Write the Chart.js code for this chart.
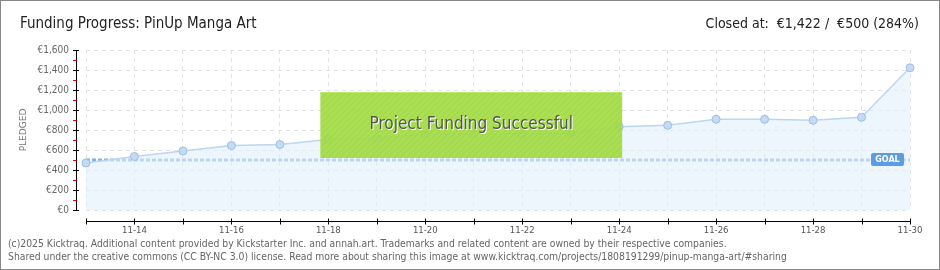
<!DOCTYPE html>
<html>
<head>
<meta charset="utf-8">
<script src="https://cdn.jsdelivr.net/npm/chart.js@4.4.1/dist/chart.umd.min.js"></script>
<style>
  html, body { margin: 0; padding: 0; background: #fff; }
  #wrap { position: relative; width: 940px; height: 270px; box-sizing: border-box; border: 1px solid #888; overflow: hidden; }
  #wrap canvas { position: absolute; left: -1px; top: -1px; }
  .title { position: absolute; top: 13px; font-family: "DejaVu Sans Condensed", sans-serif; font-size: 15px; color: #222; white-space: nowrap; }
  #t1 { left: 19px; }
  #t2 { right: 20px; font-size: 14px; top: 14px; }
  .foot { position: absolute; left: 7px; font-family: "DejaVu Sans Condensed", sans-serif; font-size: 10.3px; color: #666; white-space: nowrap; }
  #f1 { top: 236px; }
  #f2 { top: 249px; }
</style>
</head>
<body>
<div id="wrap">
  <canvas id="chart" width="940" height="270"></canvas>
  <div class="title" id="t1">Funding Progress: PinUp Manga Art</div>
  <div class="title" id="t2">Closed at:&nbsp; €1,422 /&nbsp; €500 (284%)</div>
  <div class="foot" id="f1">(c)2025 Kicktraq. Additional content provided by Kickstarter Inc. and annah.art. Trademarks and related content are owned by their respective companies.</div>
  <div class="foot" id="f2">Shared under the creative commons (CC BY-NC 3.0) license. Read more about sharing this image at www.kicktraq.com/projects/1808191299/pinup-manga-art/#sharing</div>
</div>
<script>
var days = ['11-13', '11-14', '11-15', '11-16', '11-17', '11-18', '11-19', '11-20', '11-21',
            '11-22', '11-23', '11-24', '11-25', '11-26', '11-27', '11-28', '11-29', '11-30'];
var pledged = [470, 535, 590, 645, 655, 705, 715, 757, 760, 757, 767, 833, 847, 907, 907, 897, 927, 1422];
var goal = 500;
var yTicks = [0, 200, 400, 600, 800, 1000, 1200, 1400, 1600];
// success banner spans these days / values
var bannerFrom = '11-18', bannerTo = '11-24';
var bannerTop = 1180, bannerBottom = 520;

var goalLine = days.map(function () { return goal; });

function euro(v) {
    return '€' + v.toLocaleString('en-US');
}

var stripes = (function () {
    var c = document.createElement('canvas');
    c.width = 6; c.height = 6;
    var g = c.getContext('2d');
    g.fillStyle = 'rgba(164,220,70,0.93)';
    g.fillRect(0, 0, 6, 6);
    g.strokeStyle = 'rgba(140,196,50,0.35)';
    g.lineWidth = 1;
    g.beginPath();
    g.moveTo(0, 6); g.lineTo(6, 0);
    g.moveTo(-1, 1); g.lineTo(1, -1);
    g.moveTo(5, 7); g.lineTo(7, 5);
    g.stroke();
    return g.createPattern(c, 'repeat');
})();

var extras = {
    id: 'extras',
    afterDatasetsDraw: function (chart) {
        var ctx = chart.ctx, x = chart.scales.x, y = chart.scales.y, a = chart.chartArea;
        ctx.save();

        // goal tag
        var gy = y.getPixelForValue(goal);
        var gx = x.getPixelForValue(days.length - 1);
        ctx.fillStyle = '#5b9de0';
        ctx.beginPath();
        ctx.roundRect(gx - 39, gy - 7, 33, 13, 2);
        ctx.fill();
        ctx.fillStyle = '#fff';
        ctx.font = 'bold 8px "DejaVu Sans"';
        ctx.textAlign = 'center';
        ctx.textBaseline = 'middle';
        ctx.fillText('GOAL', gx - 22.5, gy);

        // success banner
        var bx1 = x.getPixelForValue(days.indexOf(bannerFrom)) - 8;
        var bx2 = x.getPixelForValue(days.indexOf(bannerTo)) + 3;
        var by1 = y.getPixelForValue(bannerTop), by2 = y.getPixelForValue(bannerBottom);
        ctx.fillStyle = stripes;
        ctx.fillRect(bx1, by1, bx2 - bx1, by2 - by1);
        ctx.fillStyle = 'rgba(190,235,110,0.8)';
        ctx.fillRect(bx1, by1, bx2 - bx1, 1);
        ctx.font = '17px "DejaVu Sans Condensed"';
        ctx.textBaseline = 'middle';
        ctx.fillStyle = '#fff';
        ctx.fillText('Project Funding Successful', (bx1 + bx2) / 2 + 1, (by1 + by2) / 2 + 1);
        ctx.fillStyle = '#555';
        ctx.fillText('Project Funding Successful', (bx1 + bx2) / 2, (by1 + by2) / 2);

        // y axis line with ticks
        var ax = a.left - 10;
        ctx.strokeStyle = '#000';
        ctx.lineWidth = 1;
        ctx.beginPath();
        ctx.moveTo(ax + 0.5, a.top);
        ctx.lineTo(ax + 0.5, a.bottom + 1);
        yTicks.forEach(function (v) {
            var py = Math.round(y.getPixelForValue(v)) + 0.5;
            ctx.moveTo(ax - 3, py);
            ctx.lineTo(ax + 3, py);
        });
        ctx.stroke();
        ctx.strokeStyle = '#e00';
        ctx.beginPath();
        for (var i = 0; i < yTicks.length - 1; i++) {
            var my = Math.round(y.getPixelForValue((yTicks[i] + yTicks[i + 1]) / 2)) + 0.5;
            ctx.moveTo(ax - 3, my);
            ctx.lineTo(ax + 0.5, my);
        }
        ctx.stroke();

        // x axis line with ticks
        var ay = Math.round(a.bottom + 11) + 0.5;
        ctx.strokeStyle = '#000';
        ctx.beginPath();
        ctx.moveTo(a.left, ay);
        ctx.lineTo(a.right, ay);
        days.forEach(function (d, i) {
            var px = Math.round(x.getPixelForValue(i)) + 0.5;
            ctx.moveTo(px, ay - 3);
            ctx.lineTo(px, ay + 3);
        });
        ctx.stroke();

        // side label
        ctx.translate(24, (a.top + a.bottom) / 2);
        ctx.rotate(-Math.PI / 2);
        ctx.fillStyle = '#777';
        ctx.font = '9px "DejaVu Sans"';
        ctx.textAlign = 'center';
        ctx.fillText('PLEDGED', 0, 0);
        ctx.restore();
    }
};

new Chart(document.getElementById('chart'), {
    type: 'line',
    data: {
        labels: days,
        datasets: [{
            data: pledged,
            borderColor: '#bcd6f2',
            borderWidth: 1.5,
            backgroundColor: 'rgba(225,238,252,0.6)',
            fill: 'origin',
            pointRadius: 4,
            pointBackgroundColor: '#c4dbf5',
            pointBorderColor: '#9dbde2',
            pointBorderWidth: 1,
            tension: 0
        }, {
            data: goalLine,
            borderColor: '#84aee2',
            borderWidth: 3,
            borderDash: [4, 2],
            borderCapStyle: 'butt',
            pointRadius: 0,
            fill: false
        }]
    },
    plugins: [extras],
    options: {
        animation: false,
        responsive: false,
        events: [],
        layout: { padding: { left: 0, right: 30, top: 50, bottom: 20 } },
        plugins: { legend: { display: false }, tooltip: { enabled: false } },
        scales: {
            x: {
                afterFit: function (s) { s.height = 40; },
                border: { display: false, dash: [4, 4] },
                grid: { color: '#e2e2e2', drawTicks: false },
                ticks: {
                    autoSkip: false,
                    maxRotation: 0,
                    padding: 15,
                    color: '#555',
                    font: { family: '"DejaVu Sans Condensed"', size: 9.5 },
                    callback: function (v, i) { return i % 2 === 1 ? days[i] : ''; }
                }
            },
            y: {
                min: 0,
                max: 1600,
                afterFit: function (s) { s.width = 86; },
                afterBuildTicks: function (s) { s.ticks = yTicks.map(function (v) { return { value: v }; }); },
                border: { display: false, dash: [4, 4] },
                grid: { color: '#e2e2e2', drawTicks: false },
                ticks: {
                    padding: 17,
                    color: '#666',
                    font: { family: '"DejaVu Sans Condensed"', size: 10 },
                    callback: function (v) { return euro(v); }
                }
            }
        }
    }
});
</script>
</body>
</html>
